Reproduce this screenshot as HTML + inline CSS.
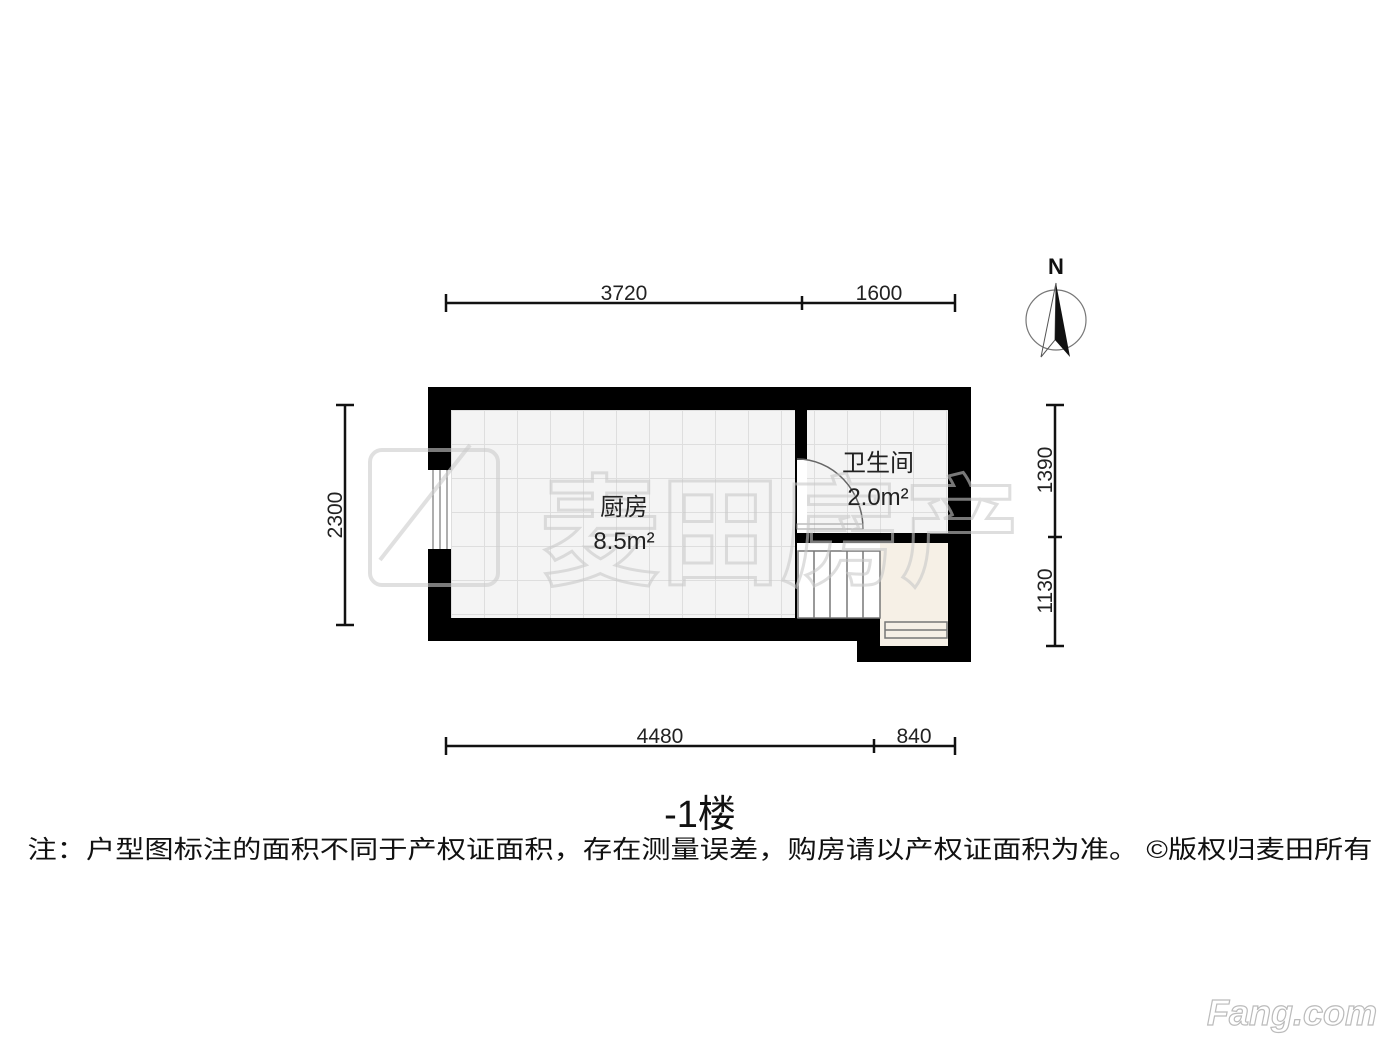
<!DOCTYPE html>
<html><head><meta charset="utf-8"><style>
html,body{margin:0;padding:0;background:#fff;}
svg{display:block;}
text{font-family:"Liberation Sans","Noto Sans CJK SC",sans-serif;}
</style></head><body>
<svg width="1400" height="1050" viewBox="0 0 1400 1050" xmlns="http://www.w3.org/2000/svg">
<defs>
<pattern id="tile" x="451" y="410" width="33" height="34" patternUnits="userSpaceOnUse">
<rect width="33" height="34" fill="#f4f4f4"/>
<path d="M0 0.5H33M0.5 0V34" stroke="#dedede" stroke-width="1"/>
</pattern>
</defs>
<rect width="1400" height="1050" fill="#fff"/>
<g stroke="#111" stroke-width="2.5">
<line x1="446" y1="303" x2="955" y2="303"/>
<line x1="446" y1="294" x2="446" y2="312"/>
<line x1="802" y1="296" x2="802" y2="310"/>
<line x1="955" y1="294" x2="955" y2="312"/>
<line x1="446" y1="746" x2="955" y2="746"/>
<line x1="446" y1="737" x2="446" y2="755"/>
<line x1="874" y1="739" x2="874" y2="753"/>
<line x1="955" y1="737" x2="955" y2="755"/>
<line x1="345" y1="405" x2="345" y2="625"/>
<line x1="336" y1="405" x2="354" y2="405"/>
<line x1="336" y1="625" x2="354" y2="625"/>
<line x1="1055" y1="405" x2="1055" y2="646"/>
<line x1="1046" y1="405" x2="1064" y2="405"/>
<line x1="1048" y1="537" x2="1062" y2="537"/>
<line x1="1046" y1="646" x2="1064" y2="646"/>
</g>
<g font-size="21" fill="#222" text-anchor="middle">
<text x="624" y="300">3720</text>
<text x="879" y="300">1600</text>
<text x="660" y="743">4480</text>
<text x="914" y="743">840</text>
<text transform="translate(342,515) rotate(-90)">2300</text>
<text transform="translate(1052,470) rotate(-90)">1390</text>
<text transform="translate(1052,591) rotate(-90)">1130</text>
</g>
<text x="1056" y="274" font-size="22" font-weight="bold" text-anchor="middle" fill="#111">N</text>
<circle cx="1056" cy="320" r="30" fill="none" stroke="#777" stroke-width="1.2"/>
<path d="M1056 283 L1041 357 L1055 340 Z" fill="none" stroke="#555" stroke-width="1"/>
<path d="M1056 283 L1070 357 L1055 340 Z" fill="#111"/>
<path d="M428 387H971V662H857V641H428Z" fill="#000"/>
<rect x="451" y="410" width="344" height="208" fill="url(#tile)"/>
<rect x="807" y="410" width="141" height="123" fill="url(#tile)"/>
<rect x="797" y="460" width="10" height="73" fill="#fff"/>
<rect x="797" y="543" width="83" height="75" fill="#fff"/>
<rect x="880" y="543" width="68" height="103" fill="#f6f0e6"/>
<g stroke="#777" stroke-width="1.5" fill="none">
<rect x="798" y="551" width="82" height="67"/>
<line x1="814" y1="551" x2="814" y2="618"/>
<line x1="830" y1="551" x2="830" y2="618"/>
<line x1="847" y1="551" x2="847" y2="618"/>
<line x1="863" y1="551" x2="863" y2="618"/>
<rect x="885" y="622" width="62" height="16"/>
<line x1="885" y1="630" x2="947" y2="630"/>
</g>
<path d="M797 459 A 66 70 0 0 1 863 529" fill="none" stroke="#666" stroke-width="1.5"/>
<rect x="797" y="524" width="66" height="5" fill="none" stroke="#999" stroke-width="1"/>
<rect x="428" y="470" width="23" height="79" fill="#fff"/>
<g stroke="#777" stroke-width="1.2"><line x1="433" y1="470" x2="433" y2="549"/><line x1="440" y1="470" x2="440" y2="549"/><line x1="447" y1="470" x2="447" y2="549"/></g>
<!-- watermark -->
<g fill="none" stroke="#ccc" stroke-opacity="0.6" stroke-width="4">
<rect x="370" y="450" width="128" height="135" rx="12"/>
<path d="M380 560 L470 445"/>
</g>
<text x="780" y="575" font-size="120" fill="none" stroke="#c8c8c8" stroke-opacity="0.6" stroke-width="3" text-anchor="middle" font-weight="bold">麦田房产</text>
<g font-size="24" fill="#222" text-anchor="middle">
<text x="624" y="515">厨房</text>
<text x="624" y="549">8.5m²</text>
<text x="878" y="471">卫生间</text>
<text x="878" y="505">2.0m²</text>
</g>
<text x="700" y="827" font-size="38" text-anchor="middle" fill="#111">-1楼</text>
<text x="700" y="858" font-size="25" text-anchor="middle" fill="#111" textLength="1345" lengthAdjust="spacingAndGlyphs">注：户型图标注的面积不同于产权证面积，存在测量误差，购房请以产权证面积为准。 ©版权归麦田所有</text>
<text x="1292" y="1025" font-size="36" font-weight="bold" font-style="italic" fill="#fff" stroke="#bbb" stroke-width="1.2" text-anchor="middle">Fang.com</text>
</svg>
</body></html>
